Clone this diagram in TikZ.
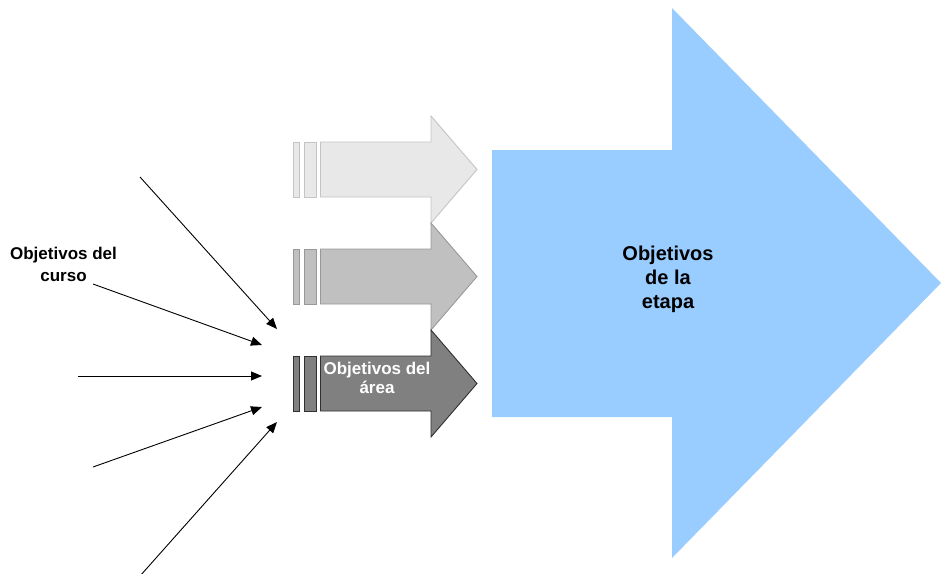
\documentclass[tikz,border=0pt]{standalone}
\usepackage{fontspec}
\setmainfont{Liberation Sans}
\usetikzlibrary{arrows.meta}
\definecolor{bigblue}{HTML}{99CCFF}
\definecolor{lightf}{HTML}{E8E8E8}
\definecolor{lightd}{HTML}{C4C4C4}
\definecolor{midf}{HTML}{C0C0C0}
\definecolor{midd}{HTML}{989898}
\definecolor{darkf}{HTML}{808080}
\definecolor{darkd}{HTML}{303030}
\begin{document}
\begin{tikzpicture}[x=1pt,y=-1pt,
  lbl/.style={font=\bfseries\fontsize{17}{22}\selectfont,align=center,inner sep=0pt},
  feed/.style={line width=0.9pt,-{Triangle[length=11pt,width=9pt]}},
  barbox/.style={line width=0.9pt}]
\useasboundingbox (0,0) rectangle (941,573);
% big arrow
\fill[bigblue] (492,150) -- (672,150) -- (672,8) -- (941,283) -- (672,558) -- (672,417) -- (492,417) -- cycle;
\node[lbl,font=\bfseries\fontsize{20}{24}\selectfont] (etapa) at (668,279) {Objetivos\\de la\\etapa};
% small arrows
\foreach \dy/\f/\d in {0/lightf/lightd,107/midf/midd,214/darkf/darkd}{
  \begin{scope}[yshift=-\dy pt]
    \filldraw[barbox,fill=\f,draw=\d] (320.5,142) -- (431,142) -- (431,116) -- (477,169.5) -- (431,223) -- (431,197) -- (320.5,197) -- cycle;
    \filldraw[barbox,fill=\f,draw=\d] (293,142) rectangle (299.5,197);
    \filldraw[barbox,fill=\f,draw=\d] (304.5,142) rectangle (316,197);
  \end{scope}
}
\node[lbl,text=white,font=\bfseries\fontsize{17}{19}\selectfont] (area) at (377,377.5) {Objetivos del\\área};
% left label
\node[lbl] (curso) at (63.5,264) {Objetivos del\\curso};
% feeding lines
\coordinate (s1) at (140,177); \coordinate (t1) at (277,329);
\coordinate (s2) at (93,284);  \coordinate (t2) at (262,345);
\coordinate (s3) at (78,376);  \coordinate (t3) at (262,376);
\coordinate (s4) at (93,467);  \coordinate (t4) at (262,407);
\coordinate (s5) at (140,576); \coordinate (t5) at (277,422);
\foreach \i in {1,...,5}{\draw[feed] (s\i) -- (t\i);}
\end{tikzpicture}
\end{document}
